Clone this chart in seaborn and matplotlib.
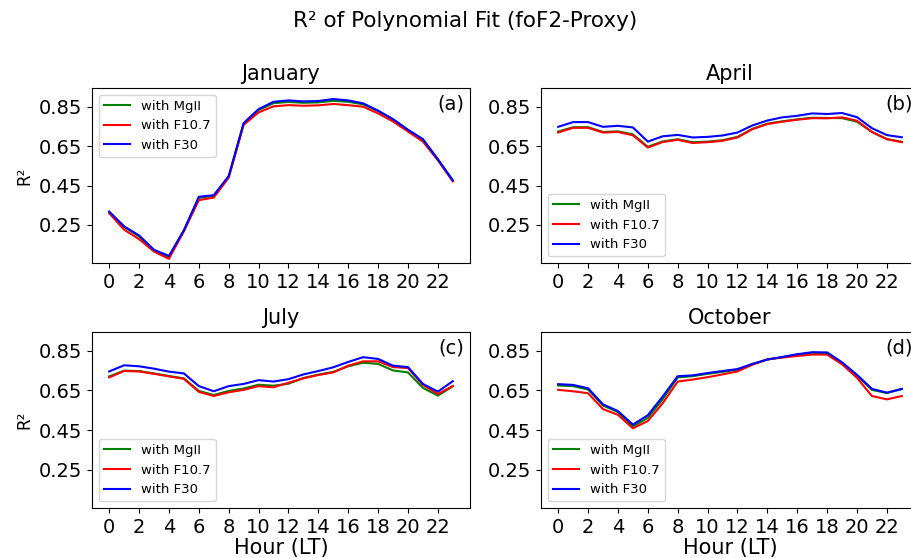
import numpy as np
import pandas as pd
import matplotlib
matplotlib.use("Agg")
import matplotlib.pyplot as plt
import seaborn as sns

hours = list(range(24))
months = ["January", "April", "July", "October"]
panel_labels = ["(a)", "(b)", "(c)", "(d)"]
proxies = ["with MgII", "with F10.7", "with F30"]
colors = ["green", "red", "blue"]
yticks = [0.25, 0.45, 0.65, 0.85]
xticks = list(range(0, 24, 2))

jan_mgii = [0.315, 0.240, 0.192, 0.120, 0.088, 0.222, 0.388, 0.398, 0.495, 0.764, 0.833, 0.868,
            0.874, 0.870, 0.872, 0.880, 0.875, 0.862, 0.828, 0.785, 0.732, 0.684, 0.583, 0.476]
jan_f107 = [0.310, 0.226, 0.178, 0.115, 0.078, 0.218, 0.376, 0.389, 0.490, 0.758, 0.821, 0.852,
            0.858, 0.855, 0.857, 0.864, 0.858, 0.850, 0.816, 0.775, 0.724, 0.673, 0.578, 0.471]
jan_f30 = [0.318, 0.243, 0.197, 0.124, 0.093, 0.223, 0.393, 0.401, 0.498, 0.767, 0.838, 0.875,
           0.882, 0.877, 0.879, 0.889, 0.882, 0.867, 0.830, 0.787, 0.733, 0.685, 0.583, 0.476]

apr_mgii = [0.724, 0.746, 0.746, 0.722, 0.725, 0.710, 0.647, 0.674, 0.685, 0.670, 0.673, 0.680,
            0.697, 0.738, 0.764, 0.776, 0.786, 0.794, 0.793, 0.792, 0.774, 0.722, 0.686, 0.672]
apr_f107 = [0.719, 0.743, 0.743, 0.719, 0.722, 0.705, 0.643, 0.671, 0.682, 0.666, 0.670, 0.677,
            0.694, 0.736, 0.762, 0.774, 0.784, 0.792, 0.791, 0.796, 0.779, 0.722, 0.685, 0.670]
apr_f30 = [0.748, 0.772, 0.772, 0.748, 0.753, 0.745, 0.673, 0.700, 0.707, 0.694, 0.697, 0.704,
           0.719, 0.755, 0.780, 0.796, 0.804, 0.816, 0.813, 0.818, 0.797, 0.741, 0.706, 0.695]

jul_mgii = [0.721, 0.750, 0.748, 0.736, 0.723, 0.711, 0.648, 0.627, 0.648, 0.660, 0.679, 0.674,
            0.684, 0.713, 0.730, 0.744, 0.772, 0.790, 0.784, 0.751, 0.741, 0.663, 0.624, 0.671]
jul_f107 = [0.716, 0.748, 0.746, 0.734, 0.721, 0.709, 0.643, 0.622, 0.641, 0.653, 0.672, 0.666,
            0.689, 0.711, 0.728, 0.741, 0.775, 0.797, 0.797, 0.768, 0.763, 0.678, 0.632, 0.673]
jul_f30 = [0.746, 0.777, 0.772, 0.760, 0.745, 0.736, 0.672, 0.646, 0.672, 0.683, 0.702, 0.695,
           0.707, 0.731, 0.748, 0.767, 0.794, 0.818, 0.809, 0.775, 0.768, 0.683, 0.644, 0.697]

oct_mgii = [0.675, 0.672, 0.655, 0.574, 0.541, 0.468, 0.512, 0.606, 0.716, 0.722, 0.734, 0.744,
            0.755, 0.783, 0.806, 0.818, 0.830, 0.840, 0.839, 0.789, 0.725, 0.653, 0.637, 0.657]
oct_f107 = [0.653, 0.646, 0.636, 0.556, 0.527, 0.459, 0.496, 0.586, 0.695, 0.705, 0.717, 0.731,
            0.746, 0.780, 0.807, 0.816, 0.824, 0.831, 0.831, 0.782, 0.714, 0.622, 0.605, 0.622]
oct_f30 = [0.682, 0.678, 0.661, 0.580, 0.546, 0.478, 0.525, 0.620, 0.722, 0.726, 0.738, 0.748,
           0.758, 0.784, 0.806, 0.819, 0.833, 0.843, 0.842, 0.792, 0.729, 0.658, 0.639, 0.658]

series = {
    "January": [jan_mgii, jan_f107, jan_f30],
    "April": [apr_mgii, apr_f107, apr_f30],
    "July": [jul_mgii, jul_f107, jul_f30],
    "October": [oct_mgii, oct_f107, oct_f30],
}

rows = []
for m in months:
    for p, vals in zip(proxies, series[m]):
        for h, v in zip(hours, vals):
            rows.append({"month": m, "hour": h, "proxy": p, "R2": v})
df = pd.DataFrame(rows)

W, H = 912, 558
fig = plt.figure(figsize=(W / 100, H / 100), dpi=100)

ax_w = 378 / W
positions = [
    (92 / W, 1 - 263 / H, ax_w, 175 / H),
    (541 / W, 1 - 263 / H, ax_w, 175 / H),
    (92 / W, 1 - 508 / H, ax_w, 176 / H),
    (541 / W, 1 - 508 / H, ax_w, 176 / H),
]
legend_locs = ["upper left", "lower left", "lower left", "lower left"]

for i, m in enumerate(months):
    ax = fig.add_axes(positions[i])
    sub = df[df["month"] == m]
    sns.lineplot(data=sub, x="hour", y="R2", hue="proxy", hue_order=proxies,
                 palette=colors, ax=ax, linewidth=1.5)
    ax.set_title(m, fontsize=15)
    ax.set_xticks(xticks)
    ax.set_yticks(yticks)
    ax.set_yticklabels([f"{t:.2f}" for t in yticks])
    ax.set_ylim(0.057, 0.945)
    ax.set_xlim(-1.15, 24.15)
    ax.tick_params(labelsize=14)
    ax.text(0.985, 0.91, panel_labels[i], transform=ax.transAxes, ha="right",
            va="center", fontsize=14)
    if i % 2 == 0:
        ax.set_ylabel("R²", fontsize=12)
    else:
        ax.set_ylabel("")
    if i >= 2:
        ax.set_xlabel("Hour (LT)", fontsize=15, labelpad=1)
    else:
        ax.set_xlabel("")
    leg = ax.legend(loc=legend_locs[i], fontsize=9.5)

fig.text(465 / W, 1 - 21 / H, "R² of Polynomial Fit (foF2-Proxy)", ha="center",
         va="center", fontsize=15.5)

fig.savefig("out.png", dpi=100)
